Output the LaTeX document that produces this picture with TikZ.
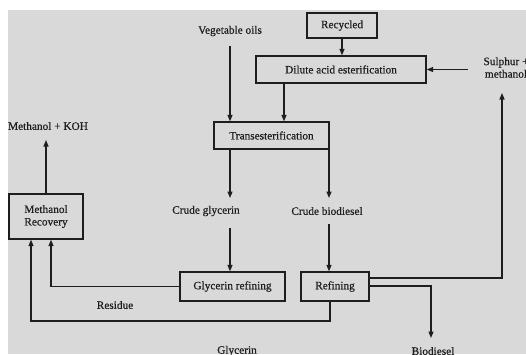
\documentclass[tikz,border=0pt]{standalone}
\usepackage{fontspec}
\setmainfont{Liberation Serif}[FakeBold=0.5]
\usetikzlibrary{arrows.meta}
\definecolor{bg}{RGB}{217,217,217}
\definecolor{ink}{RGB}{30,30,30}
\begin{document}
\begin{tikzpicture}[x=1pt,y=-1pt,
  every node/.style={font=\fontsize{11.3}{12.5}\selectfont,text=ink},
  box/.style={draw=ink,line width=1.3pt,inner sep=0pt,align=center},
  lbl/.style={inner sep=1pt,align=center},
  arr/.style={draw=ink,line width=1.3pt,-{Triangle[length=6.5pt,width=5pt]}},
  ln/.style={line width=1.3pt}]
\useasboundingbox (0,0) rectangle (526,354);
\clip (0,0) rectangle (526,354);
\fill[white] (0,0) rectangle (526,354);
\fill[bg] (8,10) rectangle (526,354);
% boxes
\node[box,minimum width=70pt,minimum height=25pt] (rec) at (342,25.5) {Recycled};
\node[box,minimum width=170pt,minimum height=27pt] (dil) at (341,69.5) {Dilute acid esterification};
\node[box,minimum width=115pt,minimum height=27pt] (trans) at (271.5,135.5) {Transesterification};
\node[box,minimum width=74pt,minimum height=45pt] (mr) at (46,216.5) {Methanol\\Recovery};
\node[box,minimum width=105pt,minimum height=29pt] (gr) at (232.5,286.5) {Glycerin refining};
\node[box,minimum width=68pt,minimum height=29pt] (ref) at (335,286.5) {Refining};
% labels
\node[lbl] (veg) at (230,31) {Vegetable oils};
\node[lbl] (sul) at (506,67.5) {Sulphur +\\methanol};
\node[lbl] (mk) at (48,126) {Methanol + KOH};
\node[lbl] (cg) at (206,211) {Crude glycerin};
\node[lbl] (cb) at (327,211) {Crude biodiesel};
\node[lbl] (res) at (115,305) {Residue};
\node[lbl] (gly) at (237,351) {Glycerin};
\node[lbl] (bio) at (433,351) {Biodiesel};
% free ends
\coordinate (vegs) at (230,46);
\coordinate (suls) at (468,69.5);
\coordinate (cgt) at (230,198);
\coordinate (cgb) at (230,228);
\coordinate (cbt) at (329,198);
\coordinate (cbb) at (329,224);
\coordinate (mkb) at (46,140);
\coordinate (sulb) at (502,93);
\coordinate (biot) at (431,338);
% connectors
\draw[arr] (rec.south) -- (dil.north -| rec.south);
\draw[arr] (suls) -- (dil.east |- suls);
\draw[arr] (vegs) -- (trans.north -| vegs);
\draw[arr] (dil.south -| 284,0) -- (trans.north -| 284,0);
\draw[arr] (trans.south -| cgt) -- (cgt);
\draw[arr] (trans.south -| cbt) -- (cbt);
\draw[arr] (cgb) -- (gr.north -| cgb);
\draw[arr] (cbb) -- (ref.north -| cbb);
\draw[arr] (gr.west) -- (51,286.5) -- (mr.south -| 51,0);
\draw[arr] (ref.south -| 330,0) -- (330,321) -- (31,321) -- (mr.south -| 31,0);
\draw[arr] (mr.north) -- (mkb);
\draw[arr] (ref.east |- 0,278) -- (502,278) -- (sulb);
\draw[arr] (ref.east |- 0,286) -- (431,286) -- (biot);
\end{tikzpicture}
\end{document}
